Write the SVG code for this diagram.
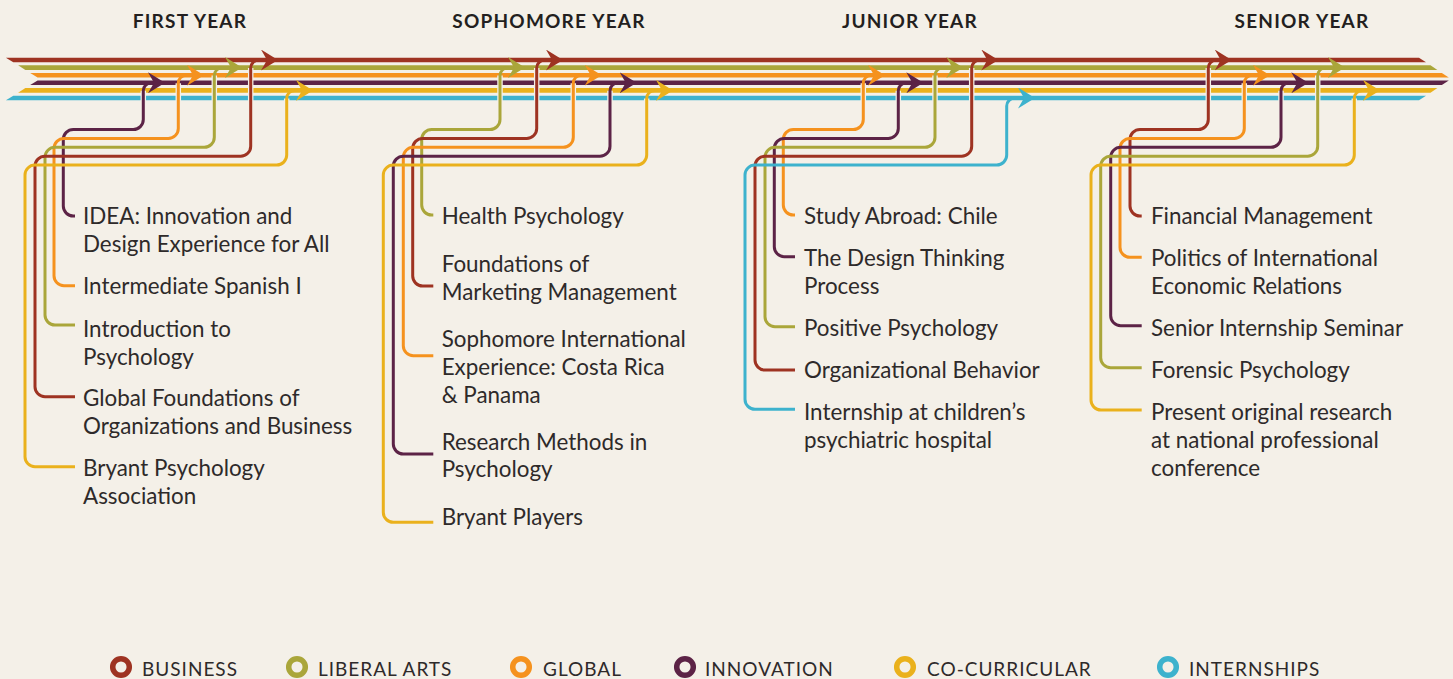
<svg xmlns="http://www.w3.org/2000/svg" width="1453" height="679" viewBox="0 0 1453 679">
<style>
.bg{fill:#f4f0e8}
.br{fill:none;stroke-width:3}
.halo{fill:none;stroke:#f4f0e8;stroke-width:5.5}
.bus{stroke:#9e3322}.lib{stroke:#aaa63a}.glo{stroke:#f5921e}.inn{stroke:#5c2346}.co{stroke:#eab11c}.int{stroke:#3db2cd}
.f-bus{fill:#9e3322}.f-lib{fill:#aaa63a}.f-glo{fill:#f5921e}.f-inn{fill:#5c2346}.f-co{fill:#eab11c}.f-int{fill:#3db2cd}
.lbl{font-family:Lato,"Liberation Sans",sans-serif;font-size:22.4px;fill:#2e2a2a}
.hdr{font-family:Lato,"Liberation Sans",sans-serif;font-size:19px;font-weight:700;fill:#231f20;letter-spacing:1.2px;text-anchor:middle}
.leg{font-family:Lato,"Liberation Sans",sans-serif;font-size:19px;fill:#2e2a2a;letter-spacing:1px}
.ring{fill:none;stroke-width:5.5}
</style>
<defs>
<marker id="m-bus" viewBox="0 0 17 21" refX="9" refY="10.5" markerWidth="17" markerHeight="21" markerUnits="userSpaceOnUse" orient="auto"><path d="M0,0 L17,10.5 L0,21 L6,10.5 Z" class="f-bus"/></marker>
<marker id="m-lib" viewBox="0 0 17 21" refX="9" refY="10.5" markerWidth="17" markerHeight="21" markerUnits="userSpaceOnUse" orient="auto"><path d="M0,0 L17,10.5 L0,21 L6,10.5 Z" class="f-lib"/></marker>
<marker id="m-glo" viewBox="0 0 17 21" refX="9" refY="10.5" markerWidth="17" markerHeight="21" markerUnits="userSpaceOnUse" orient="auto"><path d="M0,0 L17,10.5 L0,21 L6,10.5 Z" class="f-glo"/></marker>
<marker id="m-inn" viewBox="0 0 17 21" refX="9" refY="10.5" markerWidth="17" markerHeight="21" markerUnits="userSpaceOnUse" orient="auto"><path d="M0,0 L17,10.5 L0,21 L6,10.5 Z" class="f-inn"/></marker>
<marker id="m-co" viewBox="0 0 17 21" refX="9" refY="10.5" markerWidth="17" markerHeight="21" markerUnits="userSpaceOnUse" orient="auto"><path d="M0,0 L17,10.5 L0,21 L6,10.5 Z" class="f-co"/></marker>
<marker id="m-int" viewBox="0 0 17 21" refX="9" refY="10.5" markerWidth="17" markerHeight="21" markerUnits="userSpaceOnUse" orient="auto"><path d="M0,0 L17,10.5 L0,21 L6,10.5 Z" class="f-int"/></marker>
</defs>
<rect class="bg" x="0" y="0" width="1453" height="679"/>

<g id="headers">
<text class="hdr" x="190" y="28">FIRST YEAR</text>
<text class="hdr" x="549" y="28">SOPHOMORE YEAR</text>
<text class="hdr" x="910" y="28">JUNIOR YEAR</text>
<text class="hdr" x="1302" y="28">SENIOR YEAR</text>
</g>

<g id="tracks">
<polygon class="f-bus" points="5.9,57.7 1419,57.7 1426,62.3 13.3,62.3"/>
<polygon class="f-lib" points="18.1,65.3 1430.5,65.3 1437.4,69.9 25.4,69.9"/>
<polygon class="f-glo" points="30.2,72.9 1441.9,72.9 1448.8,77.5 37.6,77.5"/>
<polygon class="f-inn" points="37.6,80.5 1448.8,80.5 1441.9,85.1 30.2,85.1"/>
<polygon class="f-co" points="25.4,88.1 1437.4,88.1 1430.5,92.7 18.1,92.7"/>
<polygon class="f-int" points="13.3,95.7 1426,95.7 1419,100.3 5.9,100.3"/>
</g>

<g id="connectors">
<!-- halos where branches cross the tracks -->
<path class="halo" d="M143.3,104 V90.8 M178.3,104 V83.2 M214.3,104 V75.6 M250.7,104 V68 M286.7,104 V98.4"/>
<path class="halo" d="M500,104 V75.6 M536.7,104 V68 M573.3,104 V83.2 M610,104 V90.8 M646.7,104 V98.4"/>
<path class="halo" d="M863.3,104 V83.2 M898.3,104 V90.8 M935,104 V75.6 M971.7,104 V68 M1006.7,104 V106"/>
<path class="halo" d="M1208.3,104 V68 M1244.3,104 V83.2 M1281,104 V90.8 M1317.7,104 V75.6 M1354.3,104 V98.4"/>
<!-- first year -->
<path class="br inn" marker-end="url(#m-inn)" d="M75,216 H73.3 A10,10 0 0 1 63.3,206 V139.5 A10,10 0 0 1 73.3,129.5 H133.3 A10,10 0 0 0 143.3,119.5 V90.8 A8,8 0 0 1 151.3,82.8 H157"/>
<path class="br glo" marker-end="url(#m-glo)" d="M75,285.7 H64 A10,10 0 0 1 54,275.7 V148.4 A10,10 0 0 1 64,138.4 H168.3 A10,10 0 0 0 178.3,128.4 V83.2 A8,8 0 0 1 186.3,75.2 H196"/>
<path class="br lib" marker-end="url(#m-lib)" d="M75,325 H55 A10,10 0 0 1 45,315 V157.3 A10,10 0 0 1 55,147.3 H204.3 A10,10 0 0 0 214.3,137.3 V75.6 A8,8 0 0 1 222.3,67.6 H234"/>
<path class="br bus" marker-end="url(#m-bus)" d="M75,396.7 H45 A10,10 0 0 1 35,386.7 V166.2 A10,10 0 0 1 45,156.2 H240.7 A10,10 0 0 0 250.7,146.2 V68 A8,8 0 0 1 258.7,60 H270"/>
<path class="br co" marker-end="url(#m-co)" d="M75,466.7 H35 A10,10 0 0 1 25,456.7 V175.1 A10,10 0 0 1 35,165.1 H276.7 A10,10 0 0 0 286.7,155.1 V98.4 A8,8 0 0 1 294.7,90.4 H305"/>
<!-- sophomore -->
<path class="br lib" marker-end="url(#m-lib)" d="M433.3,215 H431.7 A10,10 0 0 1 421.7,205 V139.5 A10,10 0 0 1 431.7,129.5 H490 A10,10 0 0 0 500,119.5 V75.6 A8,8 0 0 1 508,67.6 H517"/>
<path class="br bus" marker-end="url(#m-bus)" d="M433.3,286 H422.7 A10,10 0 0 1 412.7,276 V148.4 A10,10 0 0 1 422.7,138.4 H526.7 A10,10 0 0 0 536.7,128.4 V68 A8,8 0 0 1 544.7,60 H555"/>
<path class="br glo" marker-end="url(#m-glo)" d="M433.3,355.7 H413.3 A10,10 0 0 1 403.3,345.7 V157.3 A10,10 0 0 1 413.3,147.3 H563.3 A10,10 0 0 0 573.3,137.3 V83.2 A8,8 0 0 1 581.3,75.2 H593.7"/>
<path class="br inn" marker-end="url(#m-inn)" d="M433.3,454 H403.3 A10,10 0 0 1 393.3,444 V166.2 A10,10 0 0 1 403.3,156.2 H600 A10,10 0 0 0 610,146.2 V90.8 A8,8 0 0 1 618,82.8 H628.7"/>
<path class="br co" marker-end="url(#m-co)" d="M433.3,522.3 H393.3 A10,10 0 0 1 383.3,512.3 V175.1 A10,10 0 0 1 393.3,165.1 H636.7 A10,10 0 0 0 646.7,155.1 V98.4 A8,8 0 0 1 654.7,90.4 H665"/>
<!-- junior -->
<path class="br glo" marker-end="url(#m-glo)" d="M795,215 H793.3 A10,10 0 0 1 783.3,205 V139.5 A10,10 0 0 1 793.3,129.5 H853.3 A10,10 0 0 0 863.3,119.5 V83.2 A8,8 0 0 1 871.3,75.2 H877"/>
<path class="br inn" marker-end="url(#m-inn)" d="M795,256.7 H784.3 A10,10 0 0 1 774.3,246.7 V148.4 A10,10 0 0 1 784.3,138.4 H888.3 A10,10 0 0 0 898.3,128.4 V90.8 A8,8 0 0 1 906.3,82.8 H915.3"/>
<path class="br lib" marker-end="url(#m-lib)" d="M795,326.7 H775 A10,10 0 0 1 765,316.7 V157.3 A10,10 0 0 1 775,147.3 H925 A10,10 0 0 0 935,137.3 V75.6 A8,8 0 0 1 943,67.6 H955.3"/>
<path class="br bus" marker-end="url(#m-bus)" d="M795,370 H765 A10,10 0 0 1 755,360 V166.2 A10,10 0 0 1 765,156.2 H961.7 A10,10 0 0 0 971.7,146.2 V68 A8,8 0 0 1 979.7,60 H990.3"/>
<path class="br int" marker-end="url(#m-int)" d="M795,409.3 H755 A10,10 0 0 1 745,399.3 V175.1 A10,10 0 0 1 755,165.1 H996.7 A10,10 0 0 0 1006.7,155.1 V106 A8,8 0 0 1 1014.7,98 H1027"/>
<!-- senior -->
<path class="br bus" marker-end="url(#m-bus)" d="M1141.7,216 H1140 A10,10 0 0 1 1130,206 V139.5 A10,10 0 0 1 1140,129.5 H1198.3 A10,10 0 0 0 1208.3,119.5 V68 A8,8 0 0 1 1216.3,60 H1223.7"/>
<path class="br glo" marker-end="url(#m-glo)" d="M1141.7,257.3 H1130 A10,10 0 0 1 1120,247.3 V148.4 A10,10 0 0 1 1130,138.4 H1234.3 A10,10 0 0 0 1244.3,128.4 V83.2 A8,8 0 0 1 1252.3,75.2 H1262"/>
<path class="br inn" marker-end="url(#m-inn)" d="M1141.7,325.7 H1120.7 A10,10 0 0 1 1110.7,315.7 V157.3 A10,10 0 0 1 1120.7,147.3 H1271 A10,10 0 0 0 1281,137.3 V90.8 A8,8 0 0 1 1289,82.8 H1300.3"/>
<path class="br lib" marker-end="url(#m-lib)" d="M1141.7,367.7 H1110.7 A10,10 0 0 1 1100.7,357.7 V166.2 A10,10 0 0 1 1110.7,156.2 H1307.7 A10,10 0 0 0 1317.7,146.2 V75.6 A8,8 0 0 1 1325.7,67.6 H1337"/>
<path class="br co" marker-end="url(#m-co)" d="M1141.7,410 H1101 A10,10 0 0 1 1091,400 V175.1 A10,10 0 0 1 1101,165.1 H1344.3 A10,10 0 0 0 1354.3,155.1 V98.4 A8,8 0 0 1 1362.3,90.4 H1372"/>
</g>

<!-- First year nodes -->
<g id="n-idea"><text class="lbl" x="83" y="223.5">IDEA: Innovation and<tspan x="83" dy="28">Design Experience for All</tspan></text></g>
<g id="n-spanish"><text class="lbl" x="83" y="294">Intermediate Spanish I</text></g>
<g id="n-intro-psych"><text class="lbl" x="83" y="336.5">Introduction to<tspan x="83" dy="28">Psychology</tspan></text></g>
<g id="n-global-found"><text class="lbl" x="83" y="406">Global Foundations of<tspan x="83" dy="28">Organizations and Business</tspan></text></g>
<g id="n-bpa"><text class="lbl" x="83" y="476">Bryant Psychology<tspan x="83" dy="28">Association</tspan></text></g>

<!-- Sophomore nodes -->
<g id="n-health"><text class="lbl" x="441.7" y="223.5">Health Psychology</text></g>
<g id="n-marketing"><text class="lbl" x="441.7" y="271.7">Foundations of<tspan x="441.7" dy="27.8">Marketing Management</tspan></text></g>
<g id="n-soph-intl"><text class="lbl" x="441.7" y="347">Sophomore International<tspan x="441.7" dy="27.8">Experience: Costa Rica</tspan><tspan x="441.7" dy="27.8">&amp; Panama</tspan></text></g>
<g id="n-research"><text class="lbl" x="441.7" y="449.5">Research Methods in<tspan x="441.7" dy="27.8">Psychology</tspan></text></g>
<g id="n-players"><text class="lbl" x="441.7" y="524.5">Bryant Players</text></g>

<!-- Junior nodes -->
<g id="n-chile"><text class="lbl" x="804" y="223.5">Study Abroad: Chile</text></g>
<g id="n-design"><text class="lbl" x="804" y="265.5">The Design Thinking<tspan x="804" dy="28">Process</tspan></text></g>
<g id="n-positive"><text class="lbl" x="804" y="335.5">Positive Psychology</text></g>
<g id="n-orgbeh"><text class="lbl" x="804" y="377.5">Organizational Behavior</text></g>
<g id="n-internship"><text class="lbl" x="804" y="419.5">Internship at children’s<tspan x="804" dy="28">psychiatric hospital</tspan></text></g>

<!-- Senior nodes -->
<g id="n-finance"><text class="lbl" x="1151" y="223.5">Financial Management</text></g>
<g id="n-politics"><text class="lbl" x="1151" y="265.5">Politics of International<tspan x="1151" dy="28">Economic Relations</tspan></text></g>
<g id="n-seminar"><text class="lbl" x="1151" y="335.5">Senior Internship Seminar</text></g>
<g id="n-forensic"><text class="lbl" x="1151" y="377.5">Forensic Psychology</text></g>
<g id="n-present"><text class="lbl" x="1151" y="419.5">Present original research<tspan x="1151" dy="28">at national professional</tspan><tspan x="1151" dy="28">conference</tspan></text></g>

<g id="legend">
<circle class="ring bus" cx="121" cy="667" r="8.3"/><text class="leg" x="142" y="676">BUSINESS</text>
<circle class="ring lib" cx="297" cy="667" r="8.3"/><text class="leg" x="318" y="676">LIBERAL ARTS</text>
<circle class="ring glo" cx="521" cy="667" r="8.3"/><text class="leg" x="543" y="676">GLOBAL</text>
<circle class="ring inn" cx="685" cy="667" r="8.3"/><text class="leg" x="705" y="676">INNOVATION</text>
<circle class="ring co" cx="905" cy="667" r="8.3"/><text class="leg" x="927" y="676">CO-CURRICULAR</text>
<circle class="ring int" cx="1168" cy="667" r="8.3"/><text class="leg" x="1189" y="676">INTERNSHIPS</text>
</g>
</svg>
